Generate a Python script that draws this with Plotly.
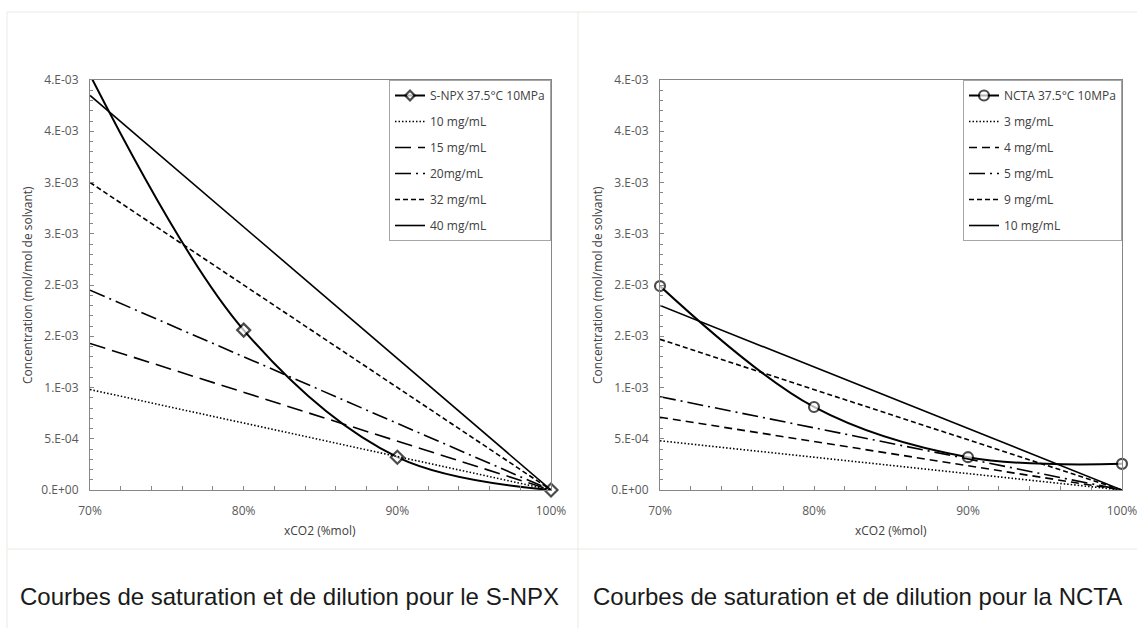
import plotly.graph_objects as go

# ---- data -------------------------------------------------------------
# saturation points, listed from pure CO2 down to 70 % CO2
x_co2 = [1.00, 0.90, 0.80, 0.70]
x_dil = [0.70, 1.00]                       # dilution lines end points

snpx_name = "S-NPX 37.5°C 10MPa"
snpx_sat = [0.0, 0.00032, 0.00156, 0.00405]
snpx_labels = ["10 mg/mL", "15 mg/mL", "20mg/mL", "32 mg/mL", "40 mg/mL"]
snpx_start = [0.00098, 0.00143, 0.00195, 0.00300, 0.00385]

ncta_name = "NCTA 37.5°C 10MPa"
ncta_sat = [0.000255, 0.00032, 0.00081, 0.00199]
ncta_labels = ["3 mg/mL", "4 mg/mL", "5 mg/mL", "9 mg/mL", "10 mg/mL"]
ncta_start = [0.00048, 0.00071, 0.00091, 0.00147, 0.00180]

y_tickvals = [0, 0.0005, 0.001, 0.0015, 0.002, 0.0025, 0.003, 0.0035, 0.004]
y_ticktext = ["0.E+00", "5.E-04", "1.E-03", "2.E-03", "2.E-03",
              "3.E-03", "3.E-03", "4.E-03", "4.E-03"]
x_tickvals = [0.7, 0.8, 0.9, 1.0]
x_ticktext = ["70%", "80%", "90%", "100%"]

y_title = "Concentration (mol/mol de solvant)"
x_title = "xCO2 (%mol)"
captions = ["Courbes de saturation et de dilution pour le S-NPX",
            "Courbes de saturation et de dilution pour la NCTA"]

# ---- styling ------------------------------------------------------------
W, H = 1137, 628
Y_MAX = 0.004
TICK_FONT = dict(family="Open Sans", size=12, color="#595959")
LEG_FONT = dict(family="Open Sans", size=12, color="#404040")
snpx_dashes = ["1.5px,2px", "16px,7px", "16px,5px,2px,5px", "5px,3px", "solid"]
ncta_dashes = ["1.5px,2px", "8px,5px", "16px,5px,2px,5px", "5px,3px", "solid"]


def px_x(p):
    return p / W


def px_y(p):
    return 1 - p / H


fig = go.Figure()


def add_panel(idx, sat_name, sat_vals, symbol, msize, labels, starts, dashes,
              legend):
    xa = "x" if idx == 1 else "x2"
    ya = "y" if idx == 1 else "y2"
    # markers only for points inside the value axis
    sizes = [msize if v <= Y_MAX else 0 for v in sat_vals]
    fig.add_trace(go.Scatter(
        x=x_co2, y=sat_vals, name=sat_name, mode="lines+markers",
        line=dict(color="black", width=2, shape="spline", smoothing=1.0),
        marker=dict(symbol=symbol, size=sizes, color="white",
                    line=dict(color="black", width=2.2)),
        cliponaxis=False, xaxis=xa, yaxis=ya, legend=legend,
        legendgroup=sat_name))
    for lab, v0, d in zip(labels, starts, dashes):
        fig.add_trace(go.Scatter(
            x=x_dil, y=[v0, 0.0], name=lab, mode="lines",
            line=dict(color="black", width=1.6, dash=d),
            xaxis=xa, yaxis=ya, legend=legend, legendgroup=lab + str(idx)))


add_panel(1, snpx_name, snpx_sat, "diamond", 10, snpx_labels, snpx_start,
          snpx_dashes, "legend")
add_panel(2, ncta_name, ncta_sat, "circle", 10, ncta_labels, ncta_start,
          ncta_dashes, "legend2")

dom_y = [px_y(490), px_y(80)]
dom_x1 = [px_x(90), px_x(551)]
dom_x2 = [px_x(660), px_x(1122)]

axis_common = dict(showgrid=False, zeroline=False, showline=True,
                   linecolor="#868686", linewidth=1, mirror=True,
                   ticks="inside", ticklen=4, tickcolor="#868686",
                   tickfont=TICK_FONT, automargin=False,
                   ticklabeloverflow="allow")

xaxis_cfg = dict(axis_common, range=[0.7, 1.0], tickvals=x_tickvals,
                 ticktext=x_ticktext, ticklabelstandoff=10,
                 minor=dict(tickmode="linear", tick0=0.7, dtick=0.02,
                            ticks="inside", ticklen=4, tickcolor="#868686"))
yaxis_cfg = dict(axis_common, range=[0, Y_MAX], tickvals=y_tickvals,
                 ticktext=y_ticktext, ticklabelstandoff=8,
                 minor=dict(tickmode="linear", tick0=0, dtick=0.0001,
                            ticks="inside", ticklen=3, tickcolor="#868686"))

legend_common = dict(bgcolor="rgba(255,255,255,0)", bordercolor="#a6a6a6",
                     borderwidth=1, font=LEG_FONT, tracegroupgap=7,
                     traceorder="grouped", xanchor="right", yanchor="top",
                     itemwidth=30)

fig.update_layout(
    width=W, height=H, margin=dict(l=0, r=0, t=0, b=0, autoexpand=False),
    paper_bgcolor="white", plot_bgcolor="white", showlegend=True,
    xaxis=dict(xaxis_cfg, domain=dom_x1, anchor="y"),
    yaxis=dict(yaxis_cfg, domain=dom_y, anchor="x"),
    xaxis2=dict(xaxis_cfg, domain=dom_x2, anchor="y2"),
    yaxis2=dict(yaxis_cfg, domain=dom_y, anchor="x2"),
    legend=dict(legend_common, x=px_x(551), y=px_y(80)),
    legend2=dict(legend_common, x=px_x(1122), y=px_y(80)),
)

txt_common = dict(xref="paper", yref="paper", showarrow=False,
                  xanchor="center", yanchor="middle")

# axis titles
for cx in (27, 597):
    fig.add_annotation(txt_common, text=y_title, x=px_x(cx), y=px_y(285),
                       textangle=-90,
                       font=dict(family="Open Sans", size=12, color="#404040"))
for cx in (320, 891):
    fig.add_annotation(txt_common, text=x_title, x=px_x(cx), y=px_y(530),
                       font=dict(family="Open Sans", size=12, color="#404040"))

# captions
for cx, txt in zip((289, 857), captions):
    fig.add_annotation(txt_common, text=txt, x=px_x(cx), y=px_y(596),
                       font=dict(family="Liberation Sans", size=24,
                                 color="#1a1a1a"))

# light cell borders around the two panels
cell = dict(type="line", xref="paper", yref="paper",
            line=dict(color="#e9e9e1", width=1), layer="below")
fig.add_shape(cell, x0=px_x(7), x1=1, y0=px_y(12), y1=px_y(12))
fig.add_shape(cell, x0=px_x(7), x1=1, y0=px_y(549), y1=px_y(549))
fig.add_shape(cell, x0=px_x(7), x1=px_x(7), y0=px_y(12), y1=0)
fig.add_shape(cell, x0=px_x(578), x1=px_x(578), y0=px_y(12), y1=0)

fig.write_html("out.html")
